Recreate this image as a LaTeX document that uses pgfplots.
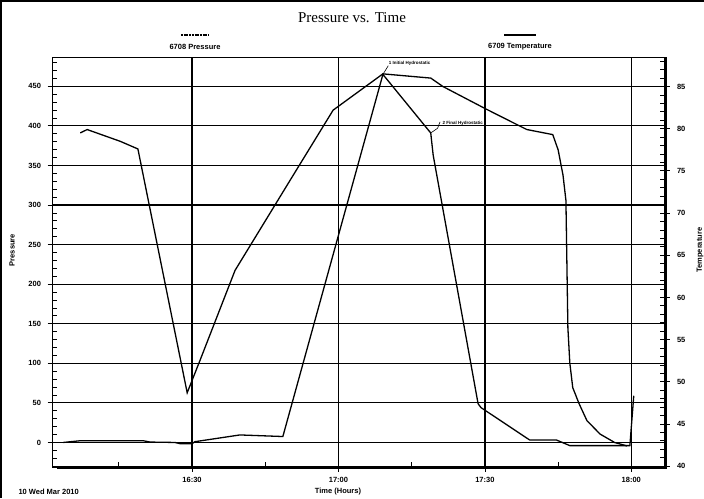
\documentclass[border=0pt]{standalone}
\usepackage{fontspec}
\setmainfont{Liberation Sans}
\newfontfamily\serifttl{Liberation Serif}
\usepackage{pgfplots}
\usepackage{pgfplotstable}
\pgfplotsset{compat=1.18}
\pgfplotstableread{
t P
3.6 0
7.1 2.2
20.0 2.2
21.4 0.5
26.5 0
27.5 -1.5
30.0 -1.5
30.6 1
39.8 9.5
48.6 7.5
69.1 465
78.9 391
79.4 363
88.6 49
89.2 44
99.2 3
104.7 3
107.4 -4
119.7 -4
120.5 59
}\pressdata
\pgfplotstableread{
t T
7.1 79.5
8.5 79.9
15.3 78.5
18.9 77.6
29.0 48.7
31.6 52.5
38.8 63.2
50.1 73.9
58.9 82.2
69.1 86.5
78.9 86.0
81.4 85.0
90.0 82.4
97.2 80.3
98.6 79.9
103.9 79.3
105.0 77.5
106.0 74.5
106.6 71.5
107.0 56.4
107.4 52.2
108.0 49.3
109.3 47.4
110.9 45.4
113.6 43.8
116.6 42.8
119.1 42.4
}\tempdata
\newcommand{\lblfont}{\bfseries\fontsize{7.5}{8}\selectfont}
\begin{document}
\begin{tikzpicture}[x=1pt,y=1pt]
\path[use as bounding box] (-52,-31) rectangle (652,467);
\draw[line width=2.5pt] (-50.75,-31) -- (-50.75,465.75) -- (652,465.75);
\node[font=\serifttl\fontsize{15}{16}\selectfont] at (300,449) {Pressure vs. Time};
\draw[line width=2pt, dash pattern=on 2pt off 0.7pt] (129,432) -- (157,432);
\node[font=\lblfont] at (143,420) {6708 Pressure};
\draw[line width=1.4pt] (452,432) -- (484,432);
\node[font=\lblfont] at (468,420) {6709 Temperature};
\node[font=\lblfont, anchor=west] at (-37,-25) {10 Wed Mar 2010};
\node[font=\lblfont] at (286,-25) {Time (Hours)};
\begin{axis}[
  at={(0,0)}, anchor=south west, scale only axis,
  width=613pt, height=410pt,
  xmin=1.3, xmax=126.9, ymin=-31, ymax=487,
  xtick={30,60,90,120}, xticklabels={16:30,17:00,17:30,18:00},
  minor xtick={15,45,75,105},
  ytick={0,50,...,450},
  minor ytick={-30,-20,...,480},
  tick pos=left,
  tick align=outside,
  major tick length=4.5pt,
  minor tick length=-5pt,
  grid=major,
  major grid style={black, line width=1.2pt},
  axis line style={black, line width=0.8pt},
  every tick/.style={black, line width=0.8pt},
  tick label style={font=\lblfont},
  /pgf/number format/assume math mode=true,
  yticklabel style={xshift=-3pt},
  xticklabel style={yshift=-2pt},
  ylabel={Pressure},
  ylabel style={font=\lblfont, at={(rel axis cs:-0.0653,0.529)}, anchor=center},
]
\addplot[black, line width=1.3pt] table[x=t,y=P] {\pressdata};
\draw[line width=0.6pt] (axis cs:69.1,465) -- (axis cs:70.2,476);
\node[anchor=west, font=\bfseries\fontsize{4.5}{5}\selectfont, inner sep=0.5pt] at (axis cs:70.2,479.5) {1 Initial Hydrostatic};
\draw[line width=0.6pt] (axis cs:78.9,391) -- (axis cs:80.3,397) -- (axis cs:80.8,405);
\node[anchor=west, font=\bfseries\fontsize{4.5}{5}\selectfont, inner sep=0.5pt] at (axis cs:81.2,403) {2 Final Hydrostatic};
\end{axis}
\begin{axis}[
  at={(0,0)}, anchor=south west, scale only axis,
  width=613pt, height=410pt,
  xmin=1.3, xmax=126.9, ymin=39.9, ymax=88.5,
  hide x axis,
  axis line style={draw=none},
  ytick={40,45,...,85},
  minor ytick={40,41,...,88},
  ytick pos=right,
  tick align=outside,
  major tick length=4.5pt,
  minor tick length=-5pt,
  every tick/.style={black, line width=0.8pt},
  tick label style={font=\lblfont},
  /pgf/number format/assume math mode=true,
  yticklabel style={xshift=4pt},
  ylabel={Temperature},
  ylabel style={font=\lblfont, at={(rel axis cs:1.057,0.529)}, anchor=center},
]
\addplot[black, line width=1.3pt] table[x=t,y=T] {\tempdata};
\end{axis}
\draw[line width=3pt] (4.7,0) -- (613,0);
\draw[line width=3pt] (613,-1.5) -- (613,410);
\end{tikzpicture}
\end{document}
